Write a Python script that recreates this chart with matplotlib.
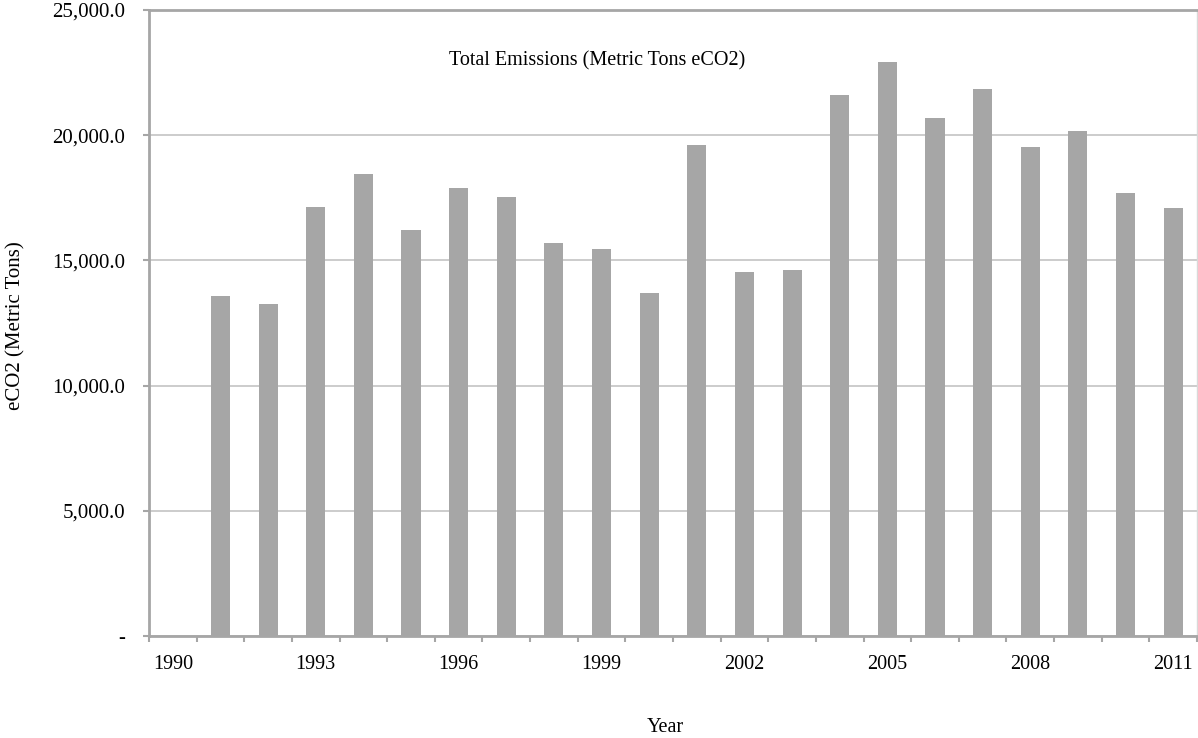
import matplotlib
matplotlib.use("Agg")
import matplotlib.pyplot as plt
from matplotlib.ticker import FuncFormatter, FixedLocator
import numpy as np

years = list(range(1990, 2012))
emissions = [0, 13570, 13250, 17130, 18460, 16220, 17900, 17550, 15700, 15440,
             13700, 19610, 14530, 14610, 21590, 22910, 20680, 21840, 19510,
             20170, 17700, 17080]
label_years = [1990, 1993, 1996, 1999, 2002, 2005, 2008, 2011]
y_ticks = [0, 5000, 10000, 15000, 20000, 25000]

plt.rcParams['font.family'] = ['Liberation Serif', 'DejaVu Serif']

fig = plt.figure(figsize=(11.98, 7.38), dpi=100)
ax = fig.add_axes([149/1198, 1 - 636/738, (1197 - 149)/1198, (636 - 10)/738])

x = np.arange(len(years))
ax.bar(x, emissions, width=0.4, color='#A6A6A6', zorder=3)

ax.set_xlim(-0.5, len(years) - 0.5)
ax.set_ylim(0, 25000)

ax.yaxis.set_major_locator(FixedLocator(y_ticks))
ax.yaxis.set_major_formatter(FuncFormatter(lambda v, p: '-' if v == 0 else f'{v:,.1f}'))
ax.grid(axis='y', color='#C4C4C4', linewidth=1.2, zorder=0)

label_pos = [years.index(yv) for yv in label_years]
ax.set_xticks(label_pos)
ax.set_xticklabels([str(v) for v in label_years])
ax.set_xticks(np.arange(-0.5, len(years) + 0.5, 1.0), minor=True)
ax.tick_params(axis='x', which='major', length=0, pad=13.5, labelsize=14.5)
ax.tick_params(axis='x', which='minor', length=4.3, width=1.5, color='#A6A6A6', direction='out')
ax.tick_params(axis='y', which='major', length=4.3, width=1.5, color='#A6A6A6', pad=13, labelsize=15)

for s in ['left', 'bottom', 'top']:
    ax.spines[s].set_color('#A6A6A6')
    ax.spines[s].set_linewidth(2)
ax.spines['right'].set_color('#D9D9D9')
ax.spines['right'].set_linewidth(1)

ax.text(0.428, 0.918, 'Total Emissions (Metric Tons eCO2)', transform=ax.transAxes,
        ha='center', va='center', fontsize=14.5)
fig.text(16/1198, 1 - 326/738, 'eCO2 (Metric Tons)', rotation=90, ha='center', va='center', fontsize=15)
fig.text(665/1198, 1 - 728/738, 'Year', ha='center', va='center', fontsize=14.5)

fig.savefig('out.png', dpi=100)
